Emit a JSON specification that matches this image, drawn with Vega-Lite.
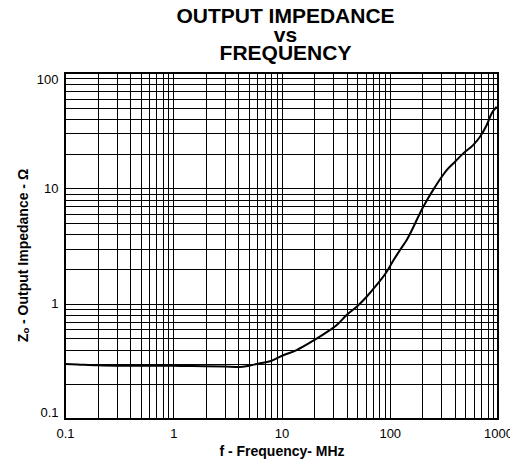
{
  "$schema": "https://vega.github.io/schema/vega-lite/v6.json",
  "width": 433,
  "height": 346,
  "autosize": {"type": "none"},
  "padding": {"left": 65, "right": 12, "top": 73, "bottom": 44},
  "background": "white",
  "title": {
    "text": ["OUTPUT IMPEDANCE", "vs", "FREQUENCY"],
    "font": "Liberation Sans",
    "fontSize": 21,
    "fontWeight": "bold",
    "lineHeight": 18.5,
    "color": "black",
    "anchor": "middle",
    "offset": 8,
    "dx": 4
  },
  "config": {
    "view": {"stroke": "black", "strokeWidth": 2},
    "axis": {
      "domain": false,
      "ticks": false,
      "grid": true,
      "gridColor": "black",
      "gridOpacity": 1,
      "gridWidth": 1,
      "labelFont": "Liberation Sans",
      "labelFontSize": 13,
      "labelColor": "black",
      "titleFont": "Liberation Sans",
      "titleFontSize": 14,
      "titleFontWeight": "bold",
      "titleColor": "black"
    }
  },
  "data": {
    "values": [
      {"f": 0.1, "z": 0.3},
      {"f": 0.13, "z": 0.297},
      {"f": 0.2, "z": 0.292},
      {"f": 0.3, "z": 0.29},
      {"f": 0.5, "z": 0.29},
      {"f": 0.7, "z": 0.29},
      {"f": 1, "z": 0.289},
      {"f": 1.5, "z": 0.288},
      {"f": 2, "z": 0.287},
      {"f": 3, "z": 0.285},
      {"f": 4.1, "z": 0.283},
      {"f": 5, "z": 0.29},
      {"f": 5.9, "z": 0.3},
      {"f": 8, "z": 0.318},
      {"f": 10, "z": 0.352},
      {"f": 13.8, "z": 0.396},
      {"f": 19.7, "z": 0.478},
      {"f": 28.1, "z": 0.592},
      {"f": 32.4, "z": 0.653},
      {"f": 40, "z": 0.798},
      {"f": 49.5, "z": 0.941},
      {"f": 61.2, "z": 1.149},
      {"f": 75.7, "z": 1.452},
      {"f": 93.7, "z": 1.893},
      {"f": 107.9, "z": 2.37},
      {"f": 124.4, "z": 2.92},
      {"f": 143.5, "z": 3.57},
      {"f": 204, "z": 6.93},
      {"f": 262, "z": 10.3},
      {"f": 336, "z": 14.4},
      {"f": 401, "z": 17.0},
      {"f": 478, "z": 20.1},
      {"f": 592, "z": 23.8},
      {"f": 682, "z": 28.0},
      {"f": 787, "z": 35.4},
      {"f": 875, "z": 44.7},
      {"f": 973, "z": 51}
    ]
  },
  "mark": {"type": "line", "color": "black", "strokeWidth": 2, "interpolate": "monotone", "clip": true},
  "encoding": {
    "x": {
      "field": "f",
      "type": "quantitative",
      "scale": {"type": "log", "domain": [0.1, 1000], "nice": false},
      "axis": {
        "title": "f - Frequency- MHz",
        "values": [0.1,0.2,0.3,0.4,0.5,0.6,0.7,0.8,0.9,1,2,3,4,5,6,7,8,9,10,20,30,40,50,60,70,80,90,100,200,300,400,500,600,700,800,900,1000],
        "labelExpr": "abs(log(datum.value)/LN10 - round(log(datum.value)/LN10)) < 0.000001 ? format(datum.value, '~g') : ''",
        "labelFlush": false,
        "labelOverlap": false,
        "labelPadding": 8,
        "titlePadding": 4
      }
    },
    "y": {
      "field": "z",
      "type": "quantitative",
      "scale": {"type": "log", "domain": [0.1, 100], "nice": false},
      "axis": {
        "title": "Zₒ - Output Impedance - Ω",
        "values": [0.1,0.2,0.3,0.4,0.5,0.6,0.7,0.8,0.9,1,2,3,4,5,6,7,8,9,10,20,30,40,50,60,70,80,90,100],
        "labelExpr": "abs(log(datum.value)/LN10 - round(log(datum.value)/LN10)) < 0.000001 ? format(datum.value, '~g') : ''",
        "labelPadding": 7,
        "labelFlush": true,
        "labelOverlap": false,
        "titlePadding": 6,
        "titleY": 182
      }
    }
  }
}
